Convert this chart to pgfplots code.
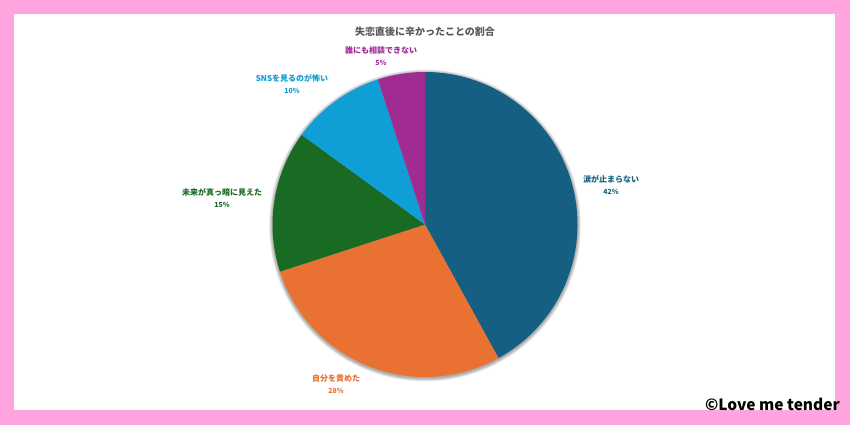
\documentclass[border=0pt]{standalone}
\usepackage{pgfplots}
\usepackage{pgfplotstable}
\pgfplotsset{compat=1.18}
\usepackage{fontspec}
\setmainfont{Noto Sans CJK JP}

\definecolor{c1}{HTML}{156082}
\definecolor{c2}{HTML}{E97132}
\definecolor{c3}{HTML}{196B24}
\definecolor{c4}{HTML}{0F9ED5}
\definecolor{c5}{HTML}{A02B93}
\definecolor{pinkframe}{HTML}{FFA4DE}
\definecolor{titlegray}{HTML}{595959}

% slices clockwise from 12 o'clock; lx, ly = label centre (pixels)
\pgfplotstableread[col sep=comma]{
label,value,color,lx,ly
涙が止まらない,42,c1,611,185
自分を責めた,28,c2,336,384
未来が真っ暗に見えた,15,c3,222,198
SNSを見るのが怖い,10,c4,292,84
誰にも相談できない,5,c5,381,56
}\piedata

\begin{document}
\begin{tikzpicture}
\begin{axis}[
  scale only axis, width=850bp, height=425bp,
  xmin=0, xmax=850, ymin=0, ymax=425, y dir=reverse,
  hide axis, clip=false
]
\pgfplotsextra{
  % frame
  \fill[pinkframe] (axis cs:0,0) rectangle (axis cs:850,425);
  \fill[white] (axis cs:14,14) rectangle (axis cs:835,410);
  % title
  \node[text=titlegray, font=\fontsize{10bp}{12bp}\selectfont\bfseries]
    at (axis cs:425,31.5) {失恋直後に辛かったことの割合};
  % soft shadow
  \foreach \s in {0.5,1,...,3.5}{
    \fill[black, opacity=0.05] (axis cs:425,225.5) circle[radius=152.5bp+\s bp];
  }
  % pie
  \coordinate (c) at (axis cs:425,224.5);
  \gdef\acc{0}
  \foreach \i in {0,...,4}{
    \pgfplotstablegetelem{\i}{value}\of\piedata \let\v\pgfplotsretval
    \pgfplotstablegetelem{\i}{color}\of\piedata \let\col\pgfplotsretval
    \pgfplotstablegetelem{\i}{label}\of\piedata \let\lab\pgfplotsretval
    \pgfplotstablegetelem{\i}{lx}\of\piedata \let\lx\pgfplotsretval
    \pgfplotstablegetelem{\i}{ly}\of\piedata \let\ly\pgfplotsretval
    \pgfmathsetmacro\a{90-3.6*\acc}
    \pgfmathsetmacro\b{90-3.6*(\acc+\v)}
    \fill[\col] (c) -- ++(\a:152.5bp) arc[start angle=\a, end angle=\b, radius=152.5bp] -- cycle;
    \node[text=\col, align=center, font=\fontsize{8bp}{12bp}\selectfont\bfseries]
      at (axis cs:\lx,\ly) {\lab\\{\fontsize{7bp}{12bp}\selectfont\v\%}};
    \pgfmathsetmacro\n{\acc+\v}
    \xdef\acc{\n}
  }
  % watermark
  \node[anchor=base east, inner sep=0pt, font=\fontsize{15.5bp}{18bp}\selectfont\bfseries]
    at (axis cs:840,410) {©Love me tender};
}
\end{axis}
\end{tikzpicture}
\end{document}
